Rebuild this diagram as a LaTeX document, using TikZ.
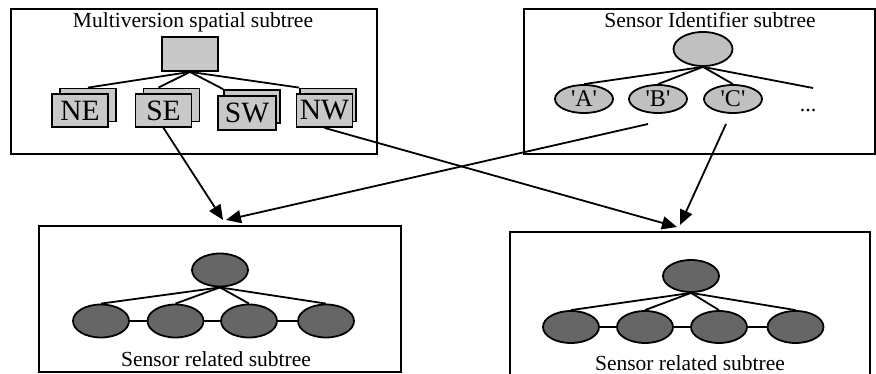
\documentclass[tikz,border=0pt]{standalone}
\usepackage{fontspec}
\setmainfont{Liberation Serif}[Ligatures=TeXOff]
\usetikzlibrary{arrows.meta,shapes.geometric,calc}
\definecolor{boxgray}{RGB}{200,200,200}
\definecolor{ellgray}{RGB}{192,192,192}
\definecolor{darkell}{RGB}{102,102,102}
\begin{document}
\begin{tikzpicture}[x=1pt,y=-1pt,
  frame/.style={draw,line width=2pt,inner sep=0pt},
  title/.style={anchor=base,inner sep=0pt,font=\fontsize{21.5}{24}\selectfont},
  rootbox/.style={draw,line width=1.8pt,fill=boxgray,inner sep=0pt,minimum width=56pt,minimum height=34pt},
  card/.style={draw,line width=1.8pt,fill=boxgray,inner sep=0pt,minimum width=56pt,minimum height=33pt,font=\fontsize{29.5}{30}\selectfont},
  idell/.style={draw,ellipse,line width=1.8pt,fill=ellgray,inner sep=0pt,minimum width=58pt,minimum height=28pt,font=\fontsize{24}{26}\selectfont},
  idroot/.style={idell,minimum width=59pt,minimum height=34pt},
  darknode/.style={draw,ellipse,line width=1.8pt,fill=darkell,inner sep=0pt,minimum width=56pt,minimum height=33pt},
  treeline/.style={line width=1.8pt},
  conn/.style={line width=1.8pt,-{Triangle[length=15pt,width=13pt]}}
]
\useasboundingbox (0,0) rectangle (876,374);
% frames
\node[frame,minimum width=366pt,minimum height=145pt] (f1) at (194,81.5) {};
\node[frame,minimum width=351pt,minimum height=145pt] (f2) at (699.5,81.5) {};
\node[frame,minimum width=362pt,minimum height=146pt] (f3) at (220,299) {};
\node[frame,minimum width=360pt,minimum height=146pt] (f4) at (690,305) {};
% titles
\node[title] (t1) at (193,28) {Multiversion spatial subtree};
\node[title] (t2) at (710,28) {Sensor Identifier subtree};
\node[title] (t3) at (216,366) {Sensor related subtree};
\node[title] (t4) at (690,370) {Sensor related subtree};
% multiversion spatial subtree
\node[rootbox] (mroot) at (190,54) {};
\node[card] (neb) at (88,105) {};
\node[card] (seb) at (171.5,105) {};
\node[card] (swb) at (252,106.5) {};
\node[card] (nwb) at (328,105) {};
\draw[treeline] (mroot.south) -- (neb.north);
\draw[treeline] (mroot.south) -- ($(seb.north)+(-13,0)$);
\draw[treeline] (mroot.south) -- (swb.north west);
\draw[treeline] (mroot.south) -- (nwb.north west);
\node[card] (ne) at (80,110.5) {NE};
\node[card] (se) at (163.5,110.5) {SE};
\node[card,minimum width=58pt,minimum height=34pt] (sw) at (247,113) {SW};
\node[card] (nw) at (324.5,110.5) {NW};
% sensor identifier subtree
\node[idroot] (iroot) at (703,49) {};
\node[idell] (ia) at (584,99) {'A'};
\node[idell] (ib) at (658,99) {'B'};
\node[idell] (ic) at (733,99) {'C'};
\coordinate (idots) at (813,88);
\node[anchor=base,inner sep=0pt,font=\fontsize{22}{24}\selectfont] (dots) at (808,112) {...};
\draw[treeline] (iroot.south) -- (ia.north);
\draw[treeline] (iroot.south) -- (ib.north);
\draw[treeline] (iroot.south) -- (ic.north);
\draw[treeline] (iroot.south) -- (idots);
% sensor related subtree (left)
\node[darknode] (lroot) at (220,270) {};
\node[darknode] (l1) at (101,321) {};
\node[darknode] (l2) at (175.5,321) {};
\node[darknode] (l3) at (249,321) {};
\node[darknode] (l4) at (326,321) {};
\foreach \c in {l1,l2,l3,l4} \draw[treeline] (lroot.south) -- (\c.north);
\draw[treeline] (l1.east) -- (l2.west);
\draw[treeline] (l2.east) -- (l3.west);
\draw[treeline] (l3.east) -- (l4.west);
% sensor related subtree (right)
\node[darknode,minimum height=32pt] (rroot) at (691,276) {};
\node[darknode,minimum height=32pt] (r1) at (571,327) {};
\node[darknode,minimum height=32pt] (r2) at (645,327) {};
\node[darknode,minimum height=32pt] (r3) at (719,327) {};
\node[darknode,minimum height=32pt] (r4) at (795.5,327) {};
\foreach \c in {r1,r2,r3,r4} \draw[treeline] (rroot.south) -- (\c.north);
\draw[treeline] (r1.east) -- (r2.west);
\draw[treeline] (r2.east) -- (r3.west);
\draw[treeline] (r3.east) -- (r4.west);
% connectors
\coordinate (bstart) at (648,124);
\coordinate (cstart) at (726,124);
\coordinate (lt1) at (223,220);
\coordinate (lt2) at (226,220);
\coordinate (rt1) at (677,227);
\coordinate (rt2) at (680,225);
\draw[conn] (se.south) -- (lt1);
\draw[conn] (bstart) -- (lt2);
\draw[conn] (nw.south) -- (rt1);
\draw[conn] (cstart) -- (rt2);
\end{tikzpicture}
\end{document}
